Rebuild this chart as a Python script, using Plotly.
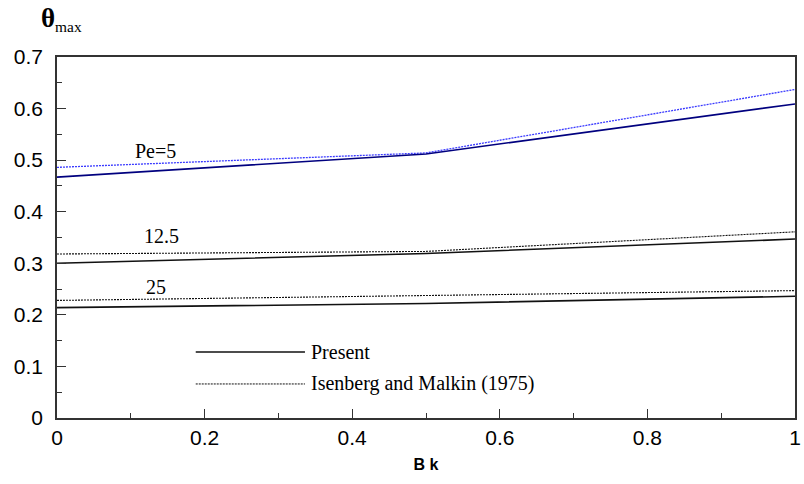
import plotly.graph_objects as go

bk = [0.0, 0.5, 1.0]

present_pe5 = [0.467, 0.512, 0.609]
isenberg_pe5 = [0.486, 0.514, 0.637]
present_pe125 = [0.300, 0.319, 0.347]
isenberg_pe125 = [0.318, 0.323, 0.361]
present_pe25 = [0.214, 0.222, 0.236]
isenberg_pe25 = [0.228, 0.238, 0.247]

curve_labels = ["Pe=5", "12.5", "25"]
label_x = [0.134, 0.141, 0.134]
label_y = [0.517, 0.352, 0.254]

legend_names = ["Present", "Isenberg and Malkin (1975)"]
legend_x = [0.188, 0.336]
legend_y = [0.128, 0.066]

x_ticks = [0, 0.2, 0.4, 0.6, 0.8, 1]
x_ticktext = ["0", "0.2", "0.4", "0.6", "0.8", "1"]
y_ticks = [0, 0.1, 0.2, 0.3, 0.4, 0.5, 0.6, 0.7]
y_ticktext = ["0", "0.1", "0.2", "0.3", "0.4", "0.5", "0.6", "0.7"]

navy = "#00007f"
blue = "#3a3aff"
black = "#111111"
dotted = "2px,1px"

fig = go.Figure()

series = [
    (isenberg_pe5, blue, dotted, 1.3),
    (present_pe5, navy, "solid", 1.6),
    (isenberg_pe125, black, dotted, 1.1),
    (present_pe125, black, "solid", 1.6),
    (isenberg_pe25, black, dotted, 1.1),
    (present_pe25, black, "solid", 1.6),
]
for ys, col, dash, w in series:
    fig.add_trace(go.Scatter(x=bk, y=ys, mode="lines",
                             line=dict(color=col, dash=dash, width=w),
                             showlegend=False, hoverinfo="skip"))

# legend samples
fig.add_trace(go.Scatter(x=legend_x, y=[legend_y[0]] * 2, mode="lines",
                         line=dict(color=black, width=1.4), showlegend=False, hoverinfo="skip"))
fig.add_trace(go.Scatter(x=legend_x, y=[legend_y[1]] * 2, mode="lines",
                         line=dict(color=black, width=1.0, dash=dotted), showlegend=False, hoverinfo="skip"))

serif = "Liberation Serif, Times New Roman, serif"
sans = "Liberation Sans, Arial, sans-serif"

for t, xx, yy in zip(curve_labels, label_x, label_y):
    fig.add_annotation(x=xx, y=yy, text=t, showarrow=False, xref="x", yref="y",
                       font=dict(family=serif, size=20, color="black"))

for t, yy in zip(legend_names, legend_y):
    fig.add_annotation(x=legend_x[1] + 0.005, y=yy, text=t, showarrow=False,
                       xref="x", yref="y", xanchor="left",
                       font=dict(family=serif, size=20, color="black"))

# y-axis title
fig.add_annotation(xref="paper", yref="paper", x=-0.024, y=1.0, yshift=38,
                   xanchor="left", yanchor="middle", showarrow=False,
                   text="<b><span style='font-size:27px'>θ</span></b><sub>max</sub>",
                   font=dict(family=serif, size=22, color="black"))

axis_common = dict(showgrid=False, zeroline=False, showline=True, linecolor="#333333",
                   linewidth=1.5, mirror=True, ticks="inside", ticklen=9, tickwidth=1,
                   tickcolor="#333333", ticklabeloverflow="allow",
                   tickfont=dict(family=sans, size=21, color="black"))

fig.update_xaxes(range=[0, 1], tickvals=x_ticks, ticktext=x_ticktext,
                 minor=dict(ticks="inside", ticklen=5, dtick=0.1, tickcolor="#333333", showgrid=False),
                 title=dict(text="<b>B k</b>", font=dict(family=sans, size=16, color="black"), standoff=11),
                 **axis_common)
fig.update_yaxes(range=[0, 0.7], tickvals=y_ticks, ticktext=y_ticktext,
                 ticklabelstandoff=8,
                 minor=dict(ticks="inside", ticklen=5, dtick=0.05, tickcolor="#333333", showgrid=False),
                 **axis_common)

fig.update_layout(width=804, height=484, margin=dict(l=57, r=3, t=57, b=66),
                  plot_bgcolor="white", paper_bgcolor="white")

fig.write_html("out.html")
